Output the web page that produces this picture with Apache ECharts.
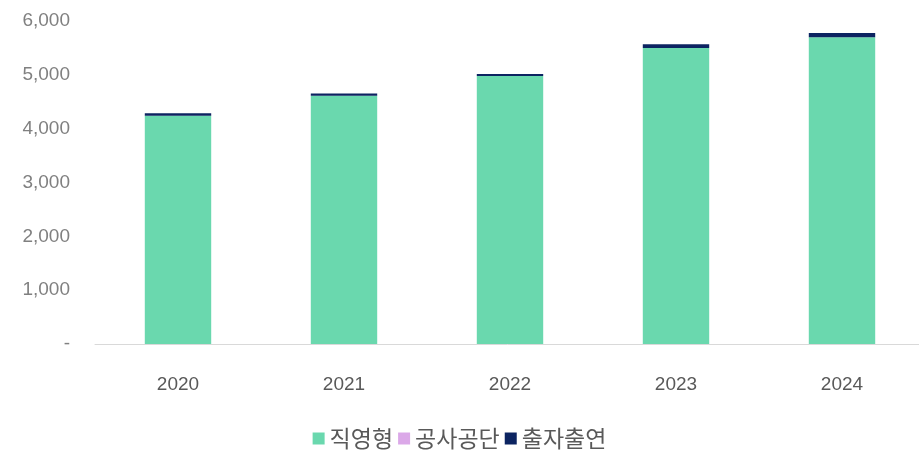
<!DOCTYPE html>
<html>
<head>
<meta charset="utf-8">
<script src="https://cdn.jsdelivr.net/npm/echarts@6/dist/echarts.min.js"></script>
<style>
  html, body { margin: 0; padding: 0; background: #fff; }
  #chart { width: 919px; height: 457px; }
</style>
</head>
<body>
<div id="chart"></div>
<script>
const years = ['2020', '2021', '2022', '2023', '2024']
const seriesNames = ['직영형', '공사공단', '출자출연']
const directValues = [4240, 4610, 4980, 5500, 5700]
const corpValues = [0, 0, 0, 0, 0]
const investValues = [45, 45, 37, 70, 75]
const yTicks = { min: 0, max: 6000, interval: 1000 }

const chart = echarts.init(document.getElementById('chart'))
const font = '"Noto Sans CJK KR", "Noto Sans", sans-serif'

chart.setOption({
  animation: false,
  textStyle: { fontFamily: font },
  grid: { left: 95, width: 830, top: 21, height: 323, outerBoundsMode: 'none' },
  legend: {
    bottom: 2,
    left: 'center',
    itemWidth: 12,
    itemHeight: 12,
    itemGap: 5,
    icon: 'rect',
    textStyle: { fontSize: 23, color: '#595959', fontFamily: font },
    data: seriesNames
  },
  xAxis: {
    type: 'category',
    data: years,
    axisLine: { lineStyle: { color: '#d9d9d9', width: 1 } },
    axisTick: { show: false },
    axisLabel: { color: '#595959', fontSize: 19, margin: 31, fontFamily: '"Liberation Sans", sans-serif' }
  },
  yAxis: {
    type: 'value',
    min: yTicks.min,
    max: yTicks.max,
    interval: yTicks.interval,
    splitLine: { show: false },
    axisLine: { show: false },
    axisTick: { show: false },
    axisLabel: {
      color: '#808080',
      fontSize: 19,
      margin: 25,
      fontFamily: '"Liberation Sans", sans-serif',
      formatter: (v) => (v === 0 ? '-' : v.toLocaleString('en-US'))
    }
  },
  series: [
    {
      name: seriesNames[0],
      type: 'bar',
      stack: 'total',
      barWidth: '40%',
      data: directValues,
      itemStyle: { color: '#6ad8ae' }
    },
    {
      name: seriesNames[1],
      type: 'bar',
      stack: 'total',
      data: corpValues,
      itemStyle: { color: '#dba8e8' }
    },
    {
      name: seriesNames[2],
      type: 'bar',
      stack: 'total',
      data: investValues,
      itemStyle: { color: '#0c2461' }
    }
  ]
})
</script>
</body>
</html>
